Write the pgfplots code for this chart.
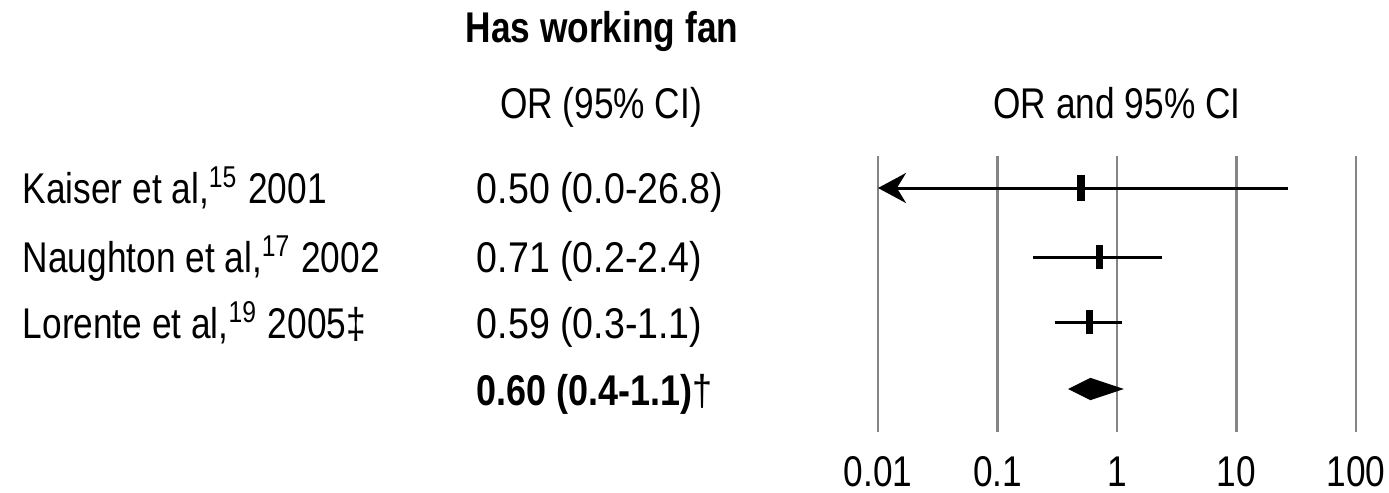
\documentclass[border=0pt]{standalone}
\usepackage{fontspec}
\setmainfont{Liberation Sans}[FakeStretch=0.82]
\usepackage{pgfplots}
\pgfplotsset{compat=1.18}
\usetikzlibrary{arrows.meta}

\begin{document}
\begin{tikzpicture}[font=\fontsize{10.75pt}{13pt}\selectfont]

% text columns, in pixel units of the reference (y downward)
\begin{scope}[x=0.25pt,y=-0.25pt]
\path (0,0) rectangle (1389,492);
\node[anchor=base,inner sep=0,font=\fontsize{10.75pt}{13pt}\selectfont\bfseries] at (602,42) {Has working fan};
\node[anchor=base,inner sep=0] at (601,118) {OR (95\% CI)};
\node[anchor=base,inner sep=0] at (1117,118) {OR and 95\% CI};

\node[anchor=base west,inner sep=0] at (22,203) {Kaiser et al,\textsuperscript{15} 2001};
\node[anchor=base west,inner sep=0] at (22,272) {Naughton et al,\textsuperscript{17} 2002};
\node[anchor=base west,inner sep=0] at (22,338) {Lorente et al,\textsuperscript{19} 2005‡};

\begin{scope}[every node/.style={anchor=base west,inner sep=0,xscale=1.065,transform shape}]
\node at (476,203) {0.50 (0.0-26.8)};
\node at (476,272) {0.71 (0.2-2.4)};
\node at (476,338) {0.59 (0.3-1.1)};
\end{scope}
\node[anchor=base west,inner sep=0,xscale=1.02,transform shape] at (476,405) {\textbf{0.60 (0.4-1.1)}†};
\end{scope}

\begin{axis}[
  at={(219.5pt,-108pt)}, anchor=south west,
  scale only axis,
  width=119.5pt, height=69pt,
  xmode=log,
  xmin=0.01, xmax=100,
  ymin=156, ymax=432,
  y dir=reverse,
  clip=false,
  axis line style={draw=none},
  xtick={0.01,0.1,1,10,100},
  xticklabels={0.01,0.1,1,10,100},
  minor xtick={},
  ytick=\empty,
  major tick length=0pt,
  minor tick length=0pt,
  xmajorgrids,
  major grid style={color=black!48, line width=0.6pt},
  xticklabel style={anchor=base, yshift=-13.5pt, inner sep=0pt},
]

% confidence intervals
\addplot[black, line width=0.75pt, {Stealth[length=7pt,width=7.5pt]}-]
  coordinates {(0.01,188) (26.8,188)};
\addplot[black, line width=0.75pt] coordinates {(0.2,257) (2.4,257)};
\addplot[black, line width=0.75pt] coordinates {(0.3,322) (1.1,322)};

% point estimates
\addplot[only marks, mark=|, mark size=3.25pt, mark options={line width=2pt}]
  coordinates {(0.50,188)};
\addplot[only marks, mark=|, mark size=2.9pt, mark options={line width=1.8pt}]
  coordinates {(0.71,257)};
\addplot[only marks, mark=|, mark size=3pt, mark options={line width=1.8pt}]
  coordinates {(0.59,322)};

% pooled estimate
\addplot[fill=black, draw=black, line width=0.3pt]
  coordinates {(0.4,389) (0.60,378.5) (1.1,389) (0.60,399.5)} -- cycle;

\end{axis}
\end{tikzpicture}
\end{document}
